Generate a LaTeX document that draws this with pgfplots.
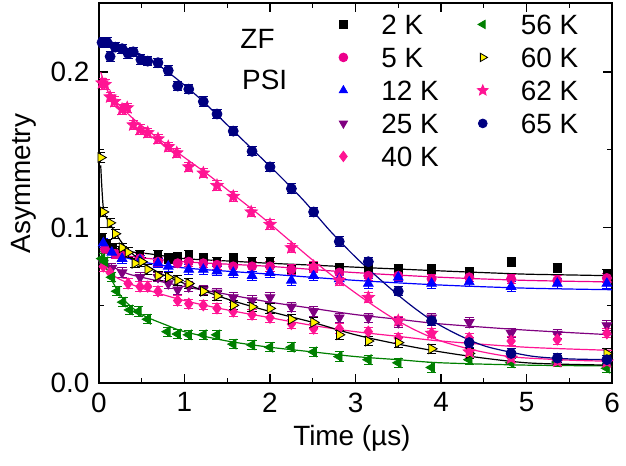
\documentclass[border=0pt]{standalone}
\usepackage{pgfplots}
\pgfplotsset{compat=1.18}
\usepackage{fontspec}
\setmainfont{Liberation Sans}
\usetikzlibrary{plotmarks}

\definecolor{dpink}{RGB}{255,20,147}
\definecolor{dnavy}{RGB}{0,0,128}
\definecolor{dpurple}{RGB}{128,0,128}
\definecolor{dgreen}{RGB}{0,128,0}

% filled five-point star
\pgfdeclareplotmark{fstar}{%
  \pgfpathmoveto{\pgfpointpolar{90}{\pgfplotmarksize}}%
  \pgfpathlineto{\pgfpointpolar{126}{0.45*\pgfplotmarksize}}%
  \pgfpathlineto{\pgfpointpolar{162}{\pgfplotmarksize}}%
  \pgfpathlineto{\pgfpointpolar{198}{0.45*\pgfplotmarksize}}%
  \pgfpathlineto{\pgfpointpolar{234}{\pgfplotmarksize}}%
  \pgfpathlineto{\pgfpointpolar{270}{0.45*\pgfplotmarksize}}%
  \pgfpathlineto{\pgfpointpolar{306}{\pgfplotmarksize}}%
  \pgfpathlineto{\pgfpointpolar{342}{0.45*\pgfplotmarksize}}%
  \pgfpathlineto{\pgfpointpolar{18}{\pgfplotmarksize}}%
  \pgfpathlineto{\pgfpointpolar{54}{0.45*\pgfplotmarksize}}%
  \pgfpathclose
  \pgfusepathqfillstroke}

\pgfplotsset{
  pts/.style={only marks, error bars/y dir=both, error bars/y fixed=0.003,
    error bars/error mark=|,
    error bars/error bar style={line width=0.5bp},
    error bars/error mark options={mark size=2.3bp, line width=0.5bp}},
  fit/.style={no marks, smooth, line width=0.6bp},
}

\begin{document}
\fontsize{14}{16}\selectfont
\begin{tikzpicture}
\begin{axis}[
  scale only axis,
  width=256.5bp, height=190bp,
  xmin=0, xmax=6, ymin=0, ymax=0.2444,
  xtick={0,1,2,3,4,5,6},
  ytick={0,0.1,0.2},
  yticklabels={0.0,0.1,0.2},
  minor x tick num=1, minor y tick num=1,
  tick align=inside,
  major tick length=4.5bp, minor tick length=2.5bp,
  axis line style={line width=0.75bp},
  every tick/.style={black, line width=0.6bp},
  /pgf/number format/assume math mode=true,
  tick label style={font=\fontsize{14}{16}\selectfont},
  label style={font=\fontsize{14}{16}\selectfont},
  xlabel={Time (µs)},
  ylabel={Asymmetry},
  xlabel style={at={(axis description cs:0.493,0)}, anchor=center, yshift=-27.5bp},
  ylabel style={at={(axis description cs:-0.1462,0.525)}, anchor=center},
  legend columns=2,
  legend cell align=left,
  legend style={draw=none, fill=none, inner sep=0pt, at={(0.46,0.971)}, anchor=north west,
    font=\fontsize{14}{16}\selectfont,
    nodes={inner sep=0pt, text height=10bp, text depth=0bp},
    row sep=6.5bp,
    /tikz/every even column/.append style={column sep=18bp}},
  legend image code/.code={\draw[#1] plot coordinates {(0bp,0bp)}; \path[draw=none, fill=none] (-4bp,-4bp) rectangle (19bp,4bp);},
]

% 2 K
\addplot[pts, mark=square*, mark size=1.9bp, black, forget plot] coordinates {
(0.035,0.093) (0.094,0.089) (0.16,0.087) (0.27,0.085) (0.48,0.082) (0.69,0.082) (0.81,0.080) (0.92,0.081)
(1.05,0.082) (1.22,0.080) (1.38,0.078) (1.57,0.080) (1.79,0.078) (2.00,0.078) (2.25,0.073) (2.51,0.075)
(2.81,0.074) (3.15,0.074) (3.50,0.073) (3.89,0.073) (4.33,0.071) (4.82,0.078) (5.36,0.074) (5.94,0.070)};
\addplot[fit, black, forget plot] coordinates {
(0.02,0.095) (0.1,0.089) (0.3,0.085) (0.6,0.083) (1,0.080) (1.5,0.0785) (2,0.077) (2.5,0.0758) (3,0.0745)
(3.5,0.0733) (4,0.0721) (4.5,0.071) (5,0.070) (5.5,0.0695) (6,0.069)};

% 5 K
\addplot[pts, mark=*, mark size=2.3bp, magenta, forget plot] coordinates {
(0.07,0.086) (0.19,0.083) (0.27,0.082) (0.48,0.080) (0.69,0.078) (0.92,0.077) (1.05,0.078) (1.22,0.077)
(1.38,0.076) (1.57,0.075) (1.79,0.075) (2.00,0.075) (2.25,0.073) (2.51,0.074) (2.81,0.071) (3.15,0.069)
(3.50,0.069) (3.89,0.067) (4.33,0.068) (4.82,0.067) (5.36,0.066) (5.94,0.0675)};
\addplot[fit, magenta, forget plot] coordinates {
(0.02,0.089) (0.05,0.087) (0.3,0.082) (1,0.078) (2,0.075) (3,0.071) (4,0.068) (5,0.066) (6,0.065)};

% 12 K
\addplot[pts, mark=triangle*, mark size=2.8bp, blue, forget plot] coordinates {
(0.05,0.090) (0.15,0.084) (0.27,0.080) (0.48,0.079) (0.69,0.077) (0.81,0.075) (1.05,0.073) (1.22,0.073)
(1.38,0.072) (1.57,0.071) (1.79,0.069) (2.00,0.071) (2.25,0.066) (2.51,0.069) (2.81,0.067) (3.15,0.064)
(3.50,0.068) (3.89,0.064) (4.33,0.065) (4.82,0.062) (5.36,0.064) (5.94,0.064)};
\addplot[fit, blue, forget plot] coordinates {
(0.02,0.093) (0.05,0.090) (0.2,0.083) (0.5,0.078) (1,0.074) (2,0.070) (3,0.066) (4,0.063) (5,0.061) (6,0.060)};

% 25 K
\addplot[pts, mark=triangle*, mark options={rotate=180}, mark size=2.8bp, dpurple, forget plot] coordinates {
(0.05,0.077) (0.15,0.074) (0.27,0.071) (0.48,0.068) (0.69,0.068) (0.81,0.064) (0.92,0.060) (1.05,0.062)
(1.22,0.060) (1.38,0.058) (1.57,0.055) (1.79,0.053) (2.00,0.055) (2.25,0.049) (2.51,0.046) (2.81,0.042)
(3.15,0.042) (3.50,0.039) (3.89,0.042) (4.33,0.039) (4.82,0.032) (5.36,0.0315) (5.94,0.037)};
\addplot[fit, dpurple, forget plot] coordinates {
(0.02,0.080) (0.05,0.078) (0.3,0.071) (0.5,0.068) (1,0.062) (1.5,0.057) (2,0.052) (2.5,0.048) (3,0.044)
(3.5,0.041) (4,0.038) (5,0.034) (6,0.031)};

% 40 K
\addplot[pts, mark=diamond*, mark size=2.8bp, dpink, forget plot] coordinates {
(0.05,0.075) (0.13,0.071) (0.34,0.064) (0.48,0.062) (0.57,0.062) (0.69,0.059) (0.92,0.053) (1.05,0.051)
(1.22,0.050) (1.38,0.048) (1.57,0.046) (1.79,0.044) (2.00,0.042) (2.25,0.038) (2.51,0.035) (2.81,0.035)
(3.15,0.033) (3.50,0.029) (3.89,0.032) (4.33,0.029) (4.82,0.027) (5.36,0.028) (5.94,0.032)};
\addplot[fit, dpink, forget plot] coordinates {
(0.02,0.079) (0.05,0.076) (0.2,0.068) (0.5,0.061) (1,0.053) (1.5,0.047) (2,0.042) (2.5,0.037) (3,0.033)
(3.5,0.030) (4,0.027) (5,0.023) (6,0.021)};

% 56 K
\addplot[pts, mark=triangle*, mark options={rotate=90}, mark size=2.8bp, dgreen, forget plot] coordinates {
(0.035,0.080) (0.07,0.078) (0.15,0.068) (0.21,0.059) (0.28,0.052) (0.36,0.047) (0.46,0.046) (0.57,0.041)
(0.80,0.033) (0.92,0.0315) (1.05,0.031) (1.22,0.031) (1.38,0.031) (1.57,0.025) (1.79,0.0245) (2.00,0.023)
(2.25,0.023) (2.51,0.020) (2.81,0.017) (3.15,0.015) (3.50,0.013) (3.89,0.010) (4.33,0.015) (4.82,0.013)
(5.36,0.0135) (5.94,0.0095)};
\addplot[fit, dgreen, forget plot] coordinates {
(0.02,0.085) (0.1,0.072) (0.2,0.061) (0.3,0.053) (0.5,0.044) (0.8,0.037) (1,0.033) (1.5,0.027) (2,0.023)
(2.5,0.020) (3,0.017) (3.5,0.015) (4,0.013) (5,0.0115) (6,0.011)};

% 60 K
\addplot[pts, mark=triangle*, mark options={rotate=-90, fill=yellow, draw=black}, mark size=2.8bp, black, forget plot] coordinates {
(0.02,0.145) (0.05,0.110) (0.13,0.103) (0.19,0.096) (0.27,0.087) (0.34,0.084) (0.42,0.077) (0.50,0.078)
(0.57,0.073) (0.69,0.069) (0.81,0.068) (0.92,0.066) (1.05,0.064) (1.22,0.059) (1.38,0.056) (1.57,0.050)
(1.79,0.049) (2.00,0.048) (2.25,0.041) (2.51,0.039) (2.81,0.031) (3.15,0.027) (3.50,0.026) (3.89,0.022)
(4.33,0.019) (4.82,0.017) (5.36,0.015) (5.94,0.019)};
\addplot[fit, black, forget plot] coordinates {
(0.02,0.140) (0.05,0.113) (0.1,0.105) (0.2,0.096) (0.3,0.088) (0.5,0.078) (0.7,0.071) (1,0.064) (1.5,0.054)
(2,0.046) (2.5,0.039) (3,0.031) (3.5,0.025) (4,0.020) (4.5,0.016) (5,0.013) (5.5,0.012) (6,0.0115)};

% 62 K
\addplot[pts, mark=fstar, mark size=3.2bp, dpink, forget plot] coordinates {
(0.035,0.193) (0.07,0.192) (0.13,0.184) (0.18,0.181) (0.27,0.176) (0.33,0.177) (0.40,0.166) (0.48,0.163)
(0.57,0.161) (0.69,0.157) (0.81,0.152) (0.91,0.148) (1.05,0.139) (1.22,0.135) (1.38,0.127) (1.57,0.120)
(1.78,0.110) (2.00,0.102) (2.25,0.087) (2.51,0.075) (2.81,0.066) (3.15,0.055) (3.50,0.040) (3.89,0.032)
(4.33,0.020) (4.82,0.016) (5.36,0.014) (5.94,0.0135)};
\addplot[fit, dpink, forget plot] coordinates {
(0.02,0.200) (0.1,0.188) (0.2,0.181) (0.4,0.170) (0.7,0.157) (1,0.145) (1.3,0.133) (1.6,0.120) (1.9,0.107)
(2.2,0.093) (2.5,0.079) (2.8,0.066) (3.1,0.054) (3.4,0.043) (3.7,0.034) (4,0.027) (4.4,0.021) (4.8,0.017)
(5.2,0.0155) (5.6,0.0145) (6,0.014)};

% 65 K
\addplot[pts, mark=*, mark size=2.5bp, dnavy, forget plot] coordinates {
(0.035,0.219) (0.094,0.219) (0.13,0.210) (0.19,0.216) (0.27,0.215) (0.34,0.212) (0.40,0.213) (0.49,0.208)
(0.57,0.207) (0.69,0.206) (0.81,0.201) (0.92,0.191) (1.05,0.189) (1.22,0.181) (1.38,0.173) (1.57,0.162)
(1.79,0.149) (2.00,0.139) (2.25,0.125) (2.51,0.110) (2.81,0.091) (3.15,0.078) (3.50,0.059) (3.89,0.040)
(4.33,0.026) (4.82,0.019) (5.36,0.016) (5.94,0.015)};
\addplot[fit, dnavy, forget plot] coordinates {
(0.02,0.222) (0.3,0.216) (0.6,0.208) (0.9,0.196) (1.2,0.182) (1.5,0.166) (1.8,0.150) (2.1,0.134) (2.4,0.117)
(2.7,0.098) (3.0,0.081) (3.3,0.066) (3.6,0.052) (3.9,0.040) (4.2,0.031) (4.5,0.024) (4.8,0.020) (5.1,0.017)
(5.5,0.0155) (6,0.015)};

% legend, filled row by row
\addlegendimage{only marks, mark=square*, mark size=1.9bp, black}
\addlegendentry{2 K}
\addlegendimage{only marks, mark=triangle*, mark options={rotate=90}, mark size=2.4bp, dgreen}
\addlegendentry{56 K}
\addlegendimage{only marks, mark=*, mark size=2.2bp, magenta}
\addlegendentry{5 K}
\addlegendimage{only marks, mark=triangle*, mark options={rotate=-90, fill=yellow, draw=black}, mark size=2.4bp, black}
\addlegendentry{60 K}
\addlegendimage{only marks, mark=triangle*, mark size=2.4bp, blue}
\addlegendentry{12 K}
\addlegendimage{only marks, mark=fstar, mark size=2.8bp, dpink}
\addlegendentry{62 K}
\addlegendimage{only marks, mark=triangle*, mark options={rotate=180}, mark size=2.4bp, dpurple}
\addlegendentry{25 K}
\addlegendimage{only marks, mark=*, mark size=2.2bp, dnavy}
\addlegendentry{65 K}
\addlegendimage{only marks, mark=diamond*, mark size=2.6bp, dpink}
\addlegendentry{40 K}

\node[anchor=west, inner sep=0pt] at (axis cs:1.65,0.2215) {ZF};
\node[anchor=west, inner sep=0pt] at (axis cs:1.67,0.195) {PSI};
\end{axis}
\pgfresetboundingbox
\path[use as bounding box] ([shift={(-49.5bp,-41bp)}]current axis.south west) rectangle ([shift={(7bp,1.5bp)}]current axis.north east);
\end{tikzpicture}
\end{document}
